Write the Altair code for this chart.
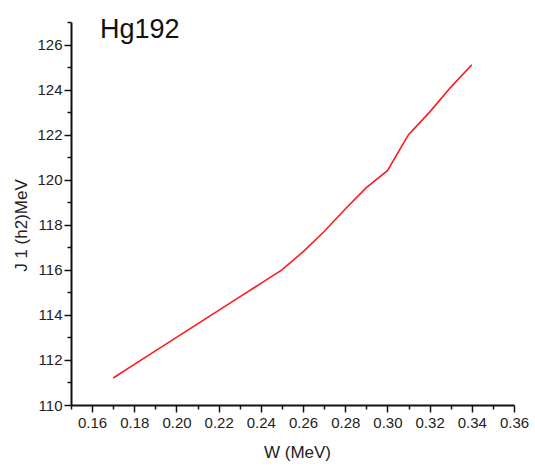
import altair as alt
import pandas as pd

# data
w_mev = [0.17, 0.18, 0.19, 0.20, 0.21, 0.22, 0.23, 0.24, 0.25,
         0.26, 0.27, 0.28, 0.29, 0.30, 0.31, 0.32, 0.33, 0.34]
j1 = [111.2, 111.8, 112.4, 113.0, 113.6, 114.2, 114.8, 115.4, 116.0,
      116.8, 117.7, 118.7, 119.65, 120.4, 122.0, 123.0, 124.1, 125.1]

x_ticks = [round(0.15 + 0.01 * i, 2) for i in range(22)]
y_ticks = list(range(110, 128))

df = pd.DataFrame({"W": w_mev, "J": j1})

SANS = "Liberation Sans, Arial, Helvetica, sans-serif"

chart = alt.Chart(df).mark_line(color="#ff1a1a", strokeWidth=1.6).encode(
    x=alt.X("W:Q", scale=alt.Scale(domain=[0.15, 0.36], nice=False, zero=False),
            axis=alt.Axis(values=x_ticks, format=".2f", title="W (MeV)",
                          labelExpr="round(datum.value*100) % 2 == 0 ? datum.label : ''",
                          tickSize=alt.expr("round(datum.value*100) % 2 == 0 ? 7 : 4"),
                          labelPadding=3, labelOverlap=False, labelFlush=False,
                          titleX=226, titleY=47, titleBaseline="middle",
                          titleFontSize=17, titleFontWeight="normal")),
    y=alt.Y("J:Q", scale=alt.Scale(domain=[110, 127], nice=False, zero=False),
            axis=alt.Axis(values=y_ticks, format="d", title="J 1 (h2)MeV",
                          labelExpr="datum.value % 2 == 0 ? datum.label : ''",
                          tickSize=alt.expr("datum.value % 2 == 0 ? 7 : 4"),
                          labelPadding=2, labelOverlap=False, labelFlush=False,
                          titleX=-50, titleY=203, titleAngle=270, titleAlign="center",
                          titleBaseline="middle", titleFontSize=17,
                          titleFontWeight="normal")),
).properties(
    width=443, height=383,
    background="white",
    autosize=alt.AutoSizeParams(type="none"),
    padding={"left": 71, "top": 22, "right": 21, "bottom": 64},
    title=alt.TitleParams("Hg192", anchor="start", frame="group", dx=29, dy=50,
                          offset=0, baseline="alphabetic", font=SANS, fontSize=27,
                          fontWeight="normal", color="#111111"),
).configure_view(stroke=None).configure_axis(
    grid=False, domainColor="#111111", domainWidth=2, tickColor="#111111", tickWidth=1.5,
    labelFont=SANS, titleFont=SANS, labelFontSize=15, labelColor="#222222",
    titleColor="#222222",
)

chart.save("out.html", embed_options={"renderer": "svg", "actions": False})
